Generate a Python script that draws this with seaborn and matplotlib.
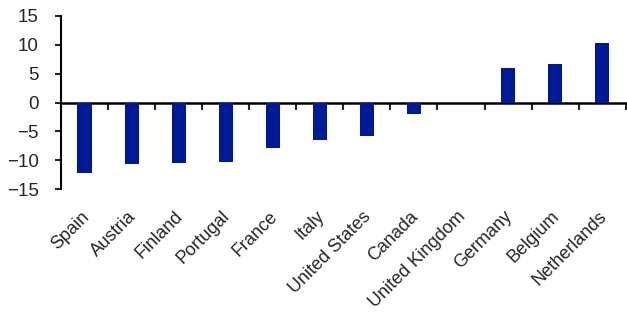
import matplotlib
matplotlib.use("Agg")
import matplotlib.pyplot as plt
import matplotlib.transforms as mtransforms
import numpy as np
import seaborn as sns

countries = ["Spain", "Austria", "Finland", "Portugal", "France", "Italy",
             "United States", "Canada", "United Kingdom", "Germany",
             "Belgium", "Netherlands"]
values = [-12.1, -10.6, -10.4, -10.3, -7.9, -6.5, -5.8, -1.9, 0.0, 5.9, 6.6, 10.2]
y_ticks = [-15, -10, -5, 0, 5, 10, 15]

sns.set_style("white")
plt.rcParams["font.family"] = ["Liberation Sans", "DejaVu Sans"]

fig = plt.figure(figsize=(6.27, 3.24), dpi=100)
ax = fig.add_axes([0.0973, 0.4157, 0.9007, 0.5358])

sns.barplot(x=countries, y=values, color="#001996", saturation=1, width=0.3,
            linewidth=0, edgecolor="none", ax=ax)

ax.set_ylim(-15, 15)
ax.set_xlim(-0.5, len(countries) - 0.5)
ax.set_yticks(y_ticks)
ax.tick_params(axis="y", direction="out", length=4, width=1.5, pad=12,
               labelsize=13.5, left=True)

# labels sit below the plot, no tick marks there
ax.tick_params(axis="x", length=0, labelsize=13, pad=20)
shift = mtransforms.ScaledTranslation(5 / 100, 0, fig.dpi_scale_trans)
for lab in ax.get_xticklabels():
    lab.set_rotation(45)
    lab.set_ha("right")
    lab.set_va("baseline")
    lab.set_rotation_mode("anchor")
    lab.set_transform(lab.get_transform() + shift)

for s in ["top", "right", "bottom"]:
    ax.spines[s].set_visible(False)
ax.spines["left"].set_linewidth(1.5)
ax.spines["left"].set_color("black")
ax.set_xlabel("")
ax.set_ylabel("")

# zero line with category separators
sec = ax.secondary_xaxis(0, transform=ax.transData)
sec.set_xticks(np.arange(-0.5, len(countries), 1.0))
sec.tick_params(axis="x", direction="out", length=5, width=1.5, labelbottom=False)
sec.spines["bottom"].set_linewidth(1.8)
sec.spines["bottom"].set_color("black")

fig.savefig("out.png", dpi=100)
